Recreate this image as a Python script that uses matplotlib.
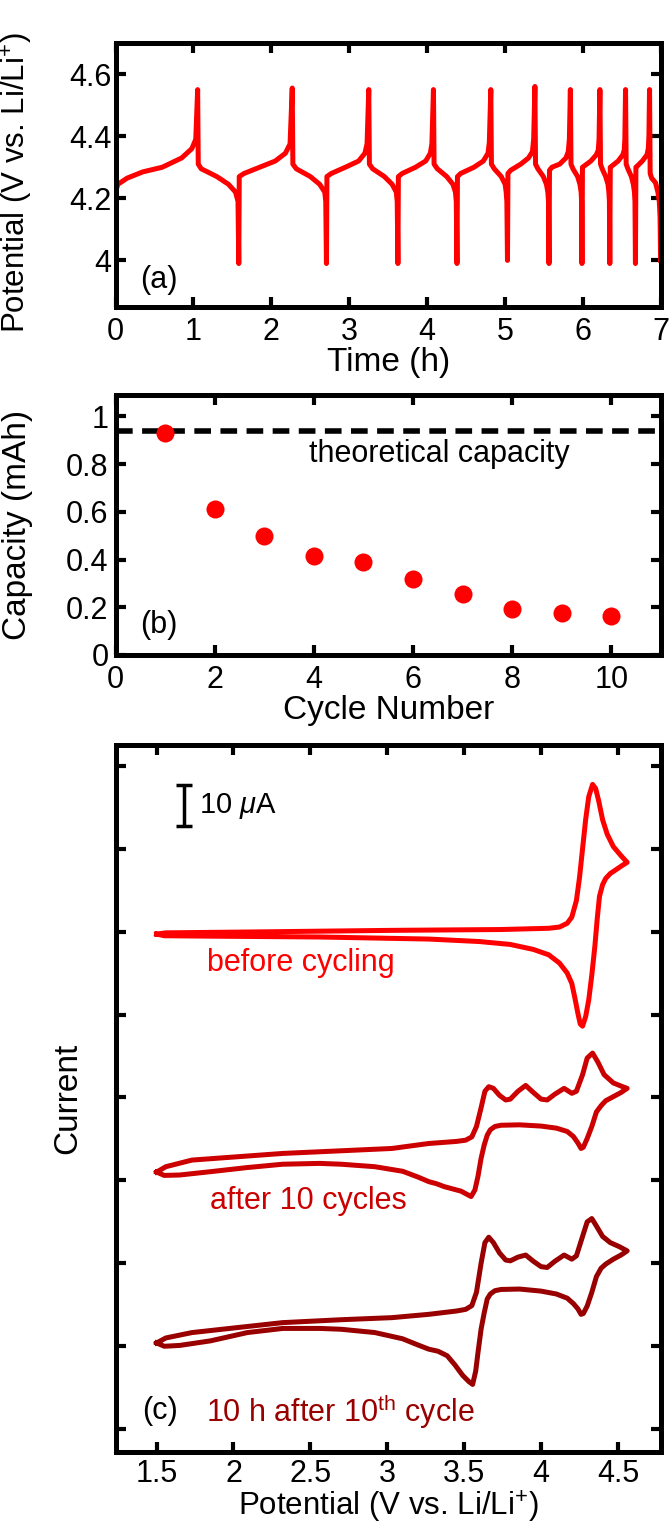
import numpy as np
import matplotlib
matplotlib.use("Agg")
import matplotlib.pyplot as plt

plt.rcParams['font.family'] = ['Liberation Sans', 'DejaVu Sans']
plt.rcParams['mathtext.fontset'] = 'custom'
plt.rcParams['mathtext.rm'] = 'Liberation Sans'
plt.rcParams['mathtext.it'] = 'Liberation Sans:italic'

# (a) galvanostatic cycling, potential vs time, one list per cycle
cycle_time = [
    [0.0, 0.0, 0.03, 0.15, 0.35, 0.6, 0.85, 0.98, 1.03, 1.054, 1.062, 1.1, 1.3, 1.45, 1.54, 1.572, 1.582],
    [1.588, 1.65, 1.85, 2.05, 2.18, 2.24, 2.268, 2.276, 2.32, 2.5, 2.62, 2.685, 2.698, 2.707],
    [2.713, 2.77, 2.95, 3.12, 3.2, 3.228, 3.25, 3.258, 3.3, 3.45, 3.55, 3.603, 3.615, 3.624],
    [3.630, 3.68, 3.85, 3.98, 4.04, 4.06, 4.08, 4.088, 4.13, 4.25, 4.33, 4.362, 4.373, 4.382],
    [4.388, 4.43, 4.6, 4.72, 4.78, 4.797, 4.816, 4.824, 4.86, 4.95, 5.0, 5.013, 5.022, 5.030],
    [5.036, 5.07, 5.2, 5.3, 5.35, 5.366, 5.382, 5.39, 5.42, 5.49, 5.53, 5.548, 5.556, 5.563],
    [5.569, 5.6, 5.7, 5.78, 5.81, 5.824, 5.837, 5.845, 5.87, 5.93, 5.96, 5.975, 5.981, 5.986],
    [5.992, 6.02, 6.1, 6.17, 6.195, 6.205, 6.216, 6.224, 6.245, 6.29, 6.32, 6.331, 6.338, 6.343],
    [6.349, 6.375, 6.45, 6.51, 6.528, 6.536, 6.545, 6.553, 6.575, 6.62, 6.645, 6.659, 6.666, 6.672],
    [6.678, 6.70, 6.76, 6.82, 6.837, 6.845, 6.853, 6.861, 6.88, 6.93, 6.96, 6.978, 6.988, 6.995],
]
cycle_potential = [
    [3.85, 4.22, 4.245, 4.265, 4.285, 4.30, 4.33, 4.36, 4.39, 4.55, 4.31, 4.295, 4.27, 4.245, 4.22, 4.19, 3.99],
    [4.27, 4.28, 4.30, 4.32, 4.345, 4.375, 4.555, 4.31, 4.295, 4.27, 4.245, 4.22, 4.19, 3.99],
    [4.27, 4.28, 4.30, 4.32, 4.345, 4.375, 4.55, 4.31, 4.295, 4.27, 4.245, 4.22, 4.19, 3.99],
    [4.27, 4.28, 4.30, 4.32, 4.345, 4.375, 4.55, 4.31, 4.295, 4.27, 4.245, 4.22, 4.19, 3.99],
    [4.27, 4.28, 4.30, 4.32, 4.345, 4.38, 4.55, 4.31, 4.295, 4.27, 4.245, 4.22, 4.19, 4.00],
    [4.28, 4.29, 4.31, 4.33, 4.35, 4.39, 4.56, 4.31, 4.295, 4.27, 4.245, 4.22, 4.19, 3.99],
    [4.29, 4.30, 4.31, 4.33, 4.35, 4.39, 4.55, 4.31, 4.295, 4.27, 4.245, 4.22, 4.19, 3.99],
    [4.30, 4.305, 4.32, 4.34, 4.355, 4.39, 4.55, 4.31, 4.295, 4.27, 4.245, 4.22, 4.19, 3.99],
    [4.30, 4.305, 4.32, 4.34, 4.355, 4.39, 4.55, 4.31, 4.295, 4.27, 4.245, 4.22, 4.19, 3.99],
    [4.30, 4.305, 4.32, 4.34, 4.36, 4.40, 4.55, 4.28, 4.265, 4.25, 4.22, 4.19, 4.14, 4.00],
]

# (b) discharge capacity per cycle
cycle = [1, 2, 3, 4, 5, 6, 7, 8, 9, 10]
capacity = [0.93, 0.614, 0.497, 0.417, 0.39, 0.318, 0.254, 0.192, 0.174, 0.164]
theoretical = 0.94

# (c) cyclic voltammograms, current in uA relative to each trace's baseline
cv_labels = ['before cycling', 'after 10 cycles', r'10 h after 10$^{\rm th}$ cycle']
cv_colors = ['#ff0000', '#cc0000', '#990000']
cv_offsets = [120, 60, 20]
cv_label_pos = [(2.44, 112.5), (2.49, 55), (1.82, 4.2)]

cv0_v = [1.50, 1.56, 2.09, 3.03, 3.74, 4.05, 4.12, 4.17, 4.20, 4.23, 4.25, 4.27, 4.29, 4.31,
         4.335, 4.355, 4.375, 4.40, 4.43, 4.47, 4.52, 4.56,
         4.53, 4.49, 4.45, 4.42, 4.40, 4.38, 4.365, 4.35, 4.33, 4.31, 4.29, 4.27, 4.255, 4.24,
         4.22, 4.20, 4.17, 4.12, 4.05, 3.95, 3.80, 3.60, 3.27, 2.56, 1.85, 1.55, 1.50]
cv0_i = [-0.6, -0.3, -0.1, 0.3, 0.5, 0.8, 1.1, 2.0, 3.5, 7.5, 13, 20, 27, 32.5,
         35.5, 34.5, 31.5, 27, 23.5, 20.5, 18.3, 16.7,
         16.0, 15.0, 14.0, 12.8, 11.3, 8.5, 3, -3.5, -10.5, -16.5, -20.5, -22.8, -22.3, -19.8,
         -16, -12.5, -10, -7.6, -5.6, -4.3, -3.1, -2.4, -1.8, -1.3, -1.1, -1.0, -0.6]

cv1_v = [1.50, 1.56, 1.73, 2.32, 3.03, 3.27, 3.45, 3.51, 3.55, 3.58, 3.61, 3.635, 3.66, 3.69,
         3.73, 3.77, 3.80, 3.85, 3.90, 3.95, 4.00, 4.04, 4.09, 4.15, 4.20, 4.23, 4.27, 4.30,
         4.335, 4.37, 4.41, 4.47, 4.53, 4.56,
         4.52, 4.47, 4.42, 4.39, 4.36, 4.33, 4.30, 4.275, 4.26, 4.24, 4.21, 4.17, 4.10, 4.00,
         3.86, 3.74, 3.70, 3.67, 3.65, 3.63, 3.61, 3.59, 3.57, 3.545, 3.52, 3.48, 3.42, 3.37,
         3.32, 3.27, 3.20, 3.10, 2.92, 2.70, 2.56, 2.32, 2.09, 1.85, 1.65, 1.55, 1.50]
cv1_i = [2.0, 3.3, 4.9, 6.5, 7.7, 8.9, 9.4, 9.7, 10.5, 13, 17.5, 21.5, 22.6, 22.2,
         20.5, 19.4, 19.6, 21.5, 22.9, 21.2, 19.6, 19.4, 20.8, 22.2, 21.0, 21.5, 25.5, 29.5,
         30.7, 28.5, 25.5, 23.5, 22.6, 22.2,
         21.2, 20.2, 19.2, 18.0, 16.5, 13, 10.1, 8, 7.7, 9, 10.6, 11.8, 12.6, 13.1,
         13.4, 13.3, 13.0, 12.2, 10.9, 8.5, 5.3, 1, -2.3, -3.9, -3.4, -2.6, -2, -1.5,
         -0.8, -0.3, 0.8, 2.2, 3.3, 3.9, 4.1, 3.9, 3.1, 2.1, 1.3, 1.2, 2.0]

cv2_v = [1.50, 1.56, 1.73, 2.00, 2.32, 2.70, 3.03, 3.27, 3.45, 3.51, 3.55, 3.58, 3.61, 3.635,
         3.66, 3.69, 3.73, 3.77, 3.80, 3.85, 3.90, 3.95, 4.00, 4.04, 4.09, 4.15, 4.20, 4.23,
         4.27, 4.30, 4.33, 4.36, 4.40, 4.45, 4.51, 4.56,
         4.52, 4.47, 4.42, 4.39, 4.36, 4.33, 4.30, 4.275, 4.26, 4.24, 4.21, 4.17, 4.10, 4.00,
         3.86, 3.74, 3.70, 3.67, 3.65, 3.63, 3.61, 3.59, 3.575, 3.555, 3.53, 3.49, 3.44, 3.39,
         3.33, 3.27, 3.20, 3.10, 2.92, 2.70, 2.56, 2.32, 2.09, 1.85, 1.65, 1.55, 1.50]
cv2_i = [0.8, 2.0, 3.3, 4.4, 5.7, 6.4, 6.9, 7.7, 8.5, 8.9, 9.8, 13, 20, 25,
         26.3, 25, 22.5, 20.8, 20.6, 21.5, 22.0, 20.5, 19.2, 19.0, 20.5, 22.0, 21.0, 21.8,
         26.5, 30, 30.8, 29, 26.5, 25.0, 24, 23.0,
         22, 21, 19.8, 18.8, 16.8, 13, 9.7, 7.9, 7.7, 9, 10.3, 11.6, 12.6, 13.3,
         13.8, 13.7, 13.4, 12.6, 11.4, 8, 4.1, -1.5, -6, -9.2, -8.5, -7, -4.5, -2.3,
         -1.2, -0.7, 0.3, 1.8, 3.3, 4.1, 4.3, 4.3, 3.3, 1.3, 0.2, 0.0, 0.8]

cv_v = [cv0_v, cv1_v, cv2_v]
cv_i = [cv0_i, cv1_i, cv2_i]

TICK = 22
LABEL = 24
W, H = 671, 1524


def rect(left, top, right, bottom):
    return [left / W, 1 - bottom / H, (right - left) / W, (bottom - top) / H]


def style(ax, xpad=7, ypad=5):
    for s in ax.spines.values():
        s.set_linewidth(3.6)
    ax.tick_params(direction='in', length=7, width=3, top=True, right=True,
                   labelsize=TICK)
    ax.tick_params(axis='x', pad=xpad)
    ax.tick_params(axis='y', pad=ypad)


def main():
    fig = plt.figure(figsize=(W / 100, H / 100), dpi=100)

    # (a)
    ax = fig.add_axes(rect(115.5, 43, 661, 307))
    t_all = np.concatenate(cycle_time)
    v_all = np.concatenate(cycle_potential)
    ax.plot(t_all, v_all, color='#ff0000', lw=3.6, solid_joinstyle='round')
    ax.set_xlim(0, 7)
    ax.set_ylim(3.85, 4.7)
    ax.set_xticks(range(8))
    ax.set_yticks([4.0, 4.2, 4.4, 4.6])
    ax.set_yticklabels(['4', '4.2', '4.4', '4.6'])
    style(ax, ypad=3)
    ax.set_xlabel('Time (h)', fontsize=LABEL, labelpad=0)
    ax.set_ylabel(r'Potential (V vs. Li/Li$^{+}$)', fontsize=LABEL - 1.5)
    ax.yaxis.set_label_coords(-0.148, 0.47)
    ax.text(0.56, 3.938, '(a)', fontsize=TICK, ha='center', va='center')

    # (b)
    ax = fig.add_axes(rect(115.5, 395, 661, 655))
    ax.axhline(theoretical, color='black', lw=4, ls=(0, (3, 1.7)))
    ax.plot(cycle, capacity, 'o', color='#ff0000', ms=13, mec='none')
    ax.set_xlim(0, 11)
    ax.set_ylim(0, 1.09)
    ax.set_xticks(range(0, 11, 2))
    ax.set_yticks([0, 0.2, 0.4, 0.6, 0.8, 1.0])
    ax.set_yticklabels(['0', '0.2', '0.4', '0.6', '0.8', '1'])
    style(ax)
    ax.set_xlabel('Cycle Number', fontsize=LABEL, labelpad=0)
    ax.set_ylabel('Capacity (mAh)', fontsize=LABEL)
    ax.yaxis.set_label_coords(-0.152, 0.5)
    ax.text(6.52, 0.842, 'theoretical capacity', fontsize=TICK, ha='center', va='center')
    ax.text(0.87, 0.126, '(b)', fontsize=TICK, ha='center', va='center')

    # (c)
    ax = fig.add_axes(rect(116, 745, 661, 1452))
    for v, i, off, col, lab, pos in zip(cv_v, cv_i, cv_offsets, cv_colors,
                                          cv_labels, cv_label_pos):
        ax.plot(v, np.array(i) + off, color=col, lw=3.6, solid_joinstyle='round')
        ha = 'left' if pos[0] < 2 else 'center'
        ax.text(pos[0], pos[1], lab, color=col, fontsize=TICK, ha=ha, va='center')
    ax.errorbar([1.68], [150.4], yerr=[5], color='black', elinewidth=2.5,
                capsize=6, capthick=2.5)
    ax.text(1.775, 150.2, r'10 $\mu$A', fontsize=TICK - 1, ha='left', va='center')
    ax.text(1.52, 4.3, '(c)', fontsize=TICK, ha='center', va='center')
    ax.set_xlim(1.236, 4.78)
    ax.set_ylim(-5.5, 165)
    ax.set_xticks([1.5, 2, 2.5, 3, 3.5, 4, 4.5])
    ax.set_xticklabels(['1.5', '2', '2.5', '3', '3.5', '4', '4.5'])
    ax.set_yticks(np.arange(0, 161, 20))
    style(ax, xpad=5)
    ax.tick_params(axis='y', labelleft=False)
    ax.set_xlabel(r'Potential (V vs. Li/Li$^{+}$)', fontsize=LABEL - 1.5, va='top')
    ax.xaxis.set_label_coords(0.5, -0.0525)
    ax.set_ylabel('Current', fontsize=LABEL)
    ax.yaxis.set_label_coords(-0.06, 0.5)

    fig.savefig('out.png', dpi=100)


if __name__ == "__main__":
    main()
